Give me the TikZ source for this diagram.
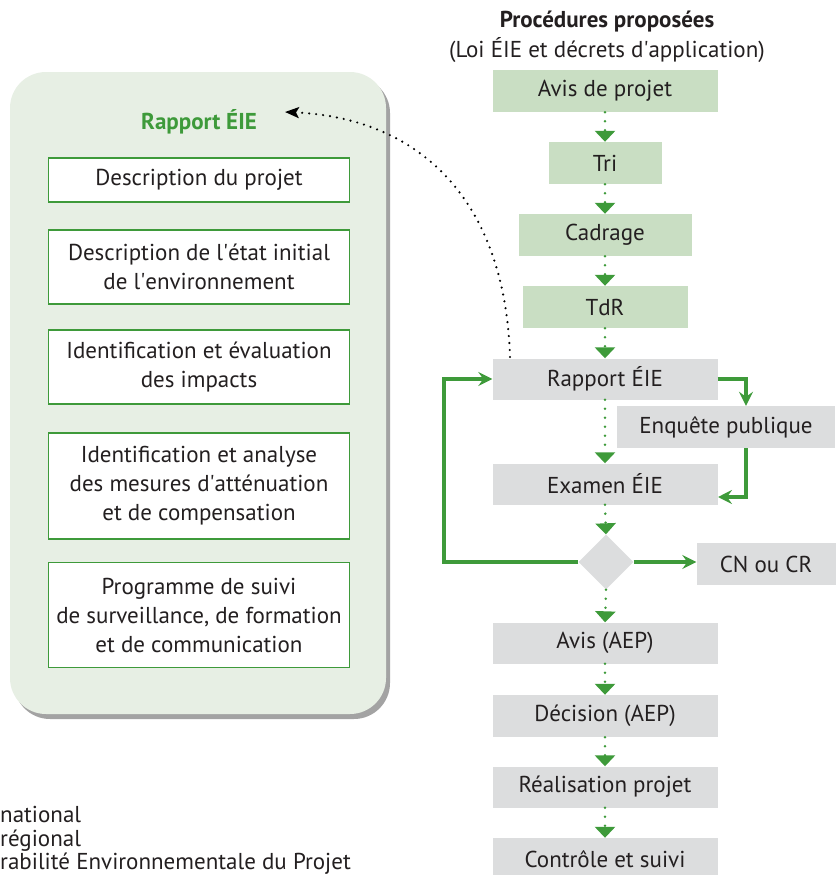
\documentclass[tikz,border=0pt]{standalone}
\usepackage{fontspec}
\setmainfont{PT Sans}
\usetikzlibrary{arrows.meta,shapes.geometric,shadows}
\definecolor{gbox}{HTML}{C9DEC3}
\definecolor{grbox}{HTML}{DCDDDE}
\definecolor{panel}{HTML}{E7EFE4}
\definecolor{gline}{HTML}{3E9A3A}
\definecolor{txt}{HTML}{231F20}
\newcommand{\q}{\textquotesingle}
\tikzset{
  base/.style={inner sep=0pt, text=txt, font=\fontsize{23}{29}\selectfont, align=center},
  greenbox/.style={base, fill=gbox},
  graybox/.style={base, fill=grbox},
  whitebox/.style={base, fill=white, draw=gline, line width=1.3pt, minimum width=301pt},
  dotarrow/.style={gline, line width=2.8pt, dash pattern=on 0pt off 9pt, line cap=round,
     -{Triangle[width=20pt,length=11pt]}},
  solarrow/.style={gline, line width=3.2pt, -{Stealth[length=14pt,width=14pt,inset=5pt]}},
}
\begin{document}
\begin{tikzpicture}[x=1pt,y=-1pt]
\useasboundingbox (0,0) rectangle (835,875);
% left panel
\node[draw=none, fill=panel, rounded corners=36pt, minimum width=376pt, minimum height=642pt,
  drop shadow={shadow xshift=4pt, shadow yshift=-5pt, fill=black!45, opacity=0.8}] (panel) at (198,393) {};
\node[base, font=\fontsize{23}{27}\selectfont\bfseries, text=gline] (rtitle) at (199,122) {Rapport ÉIE};
\node[whitebox, minimum height=44pt] (w1) at (199,180) {Description du projet};
\node[whitebox, minimum height=74pt] (w2) at (199,267) {Description de l\q état initial\\de l\q environnement};
\node[whitebox, minimum height=74pt] (w3) at (199,367) {Identification et évaluation\\des impacts};
\node[whitebox, minimum height=106pt] (w4) at (199,486) {Identification et analyse\\des mesures d\q atténuation\\et de compensation};
\node[whitebox, minimum height=105pt] (w5) at (199,615) {Programme de suivi\\de surveillance, de formation\\et de communication};
% right title
\node[base, font=\fontsize{23}{27}\selectfont\bfseries] (t1) at (607,22) {Procédures proposées};
\node[base, font=\fontsize{23}{27}\selectfont] (t2) at (607,50) {(Loi ÉIE et décrets d\q application)};
% green boxes
\node[greenbox, minimum width=225pt, minimum height=42pt] (avis) at (605,91) {Avis de projet};
\node[greenbox, minimum width=113pt, minimum height=42pt] (tri) at (605,163) {Tri};
\node[greenbox, minimum width=173pt, minimum height=42pt] (cad) at (605,235) {Cadrage};
\node[greenbox, minimum width=165pt, minimum height=42pt] (tdr) at (605,307) {TdR};
% gray boxes
\node[graybox, minimum width=225pt, minimum height=41pt] (rap) at (605,379) {Rapport ÉIE};
\node[graybox, minimum width=218pt, minimum height=42pt] (enq) at (726,427) {Enquête publique};
\node[graybox, minimum width=225pt, minimum height=41pt] (exa) at (605,484) {Examen ÉIE};
\node[diamond, fill=grbox, minimum width=55pt, minimum height=55pt, inner sep=0pt] (dia) at (606,562) {};
\node[graybox, minimum width=139pt, minimum height=42pt] (cn) at (766,564) {CN ou CR};
\node[graybox, minimum width=225pt, minimum height=41pt] (aep) at (605,643) {Avis (AEP)};
\node[graybox, minimum width=225pt, minimum height=42pt] (dec) at (605,716) {Décision (AEP)};
\node[graybox, minimum width=225pt, minimum height=41pt] (rea) at (605,787) {Réalisation projet};
\node[graybox, minimum width=225pt, minimum height=42pt] (con) at (605,859) {Contrôle et suivi};
% dotted green arrows
\draw[dotarrow] (avis.south) -- (tri.north);
\draw[dotarrow] (tri.south) -- (cad.north);
\draw[dotarrow] (cad.south) -- (tdr.north);
\draw[dotarrow] (tdr.south) -- (rap.north);
\draw[dotarrow] (rap.south) -- (exa.north);
\draw[dotarrow] (exa.south) -- (dia.north);
\draw[dotarrow] (dia.south) -- (aep.north);
\draw[dotarrow] (aep.south) -- (dec.north);
\draw[dotarrow] (dec.south) -- (rea.north);
\draw[dotarrow] (rea.south) -- (con.north);
% solid green arrows
\coordinate (loopx) at (444,0);
\coordinate (sidex) at (746,0);
\draw[solarrow] (dia.west) -| (loopx |- rap.west) -- (rap.west);
\draw[solarrow] (rap.east) -| (sidex |- enq.north);
\coordinate (exin) at (718,497);
\draw[solarrow] (sidex |- enq.south) |- (exin);
\draw[solarrow] (dia.east) -- (dia.east -| cn.west);
% black dotted curve
\coordinate (cstart) at (510,357);
\coordinate (cend) at (285,112);
\draw[black, line width=2.4pt, dash pattern=on 0pt off 7pt, line cap=round,
  -{Stealth[length=14pt,width=11pt,inset=3pt]}]
  (cstart) .. controls (505,200) and (420,118) .. (cend);
% legend fragments
\node[base, anchor=west, font=\fontsize{23}{27}\selectfont] (l1) at (0,814) {national};
\node[base, anchor=west, font=\fontsize{23}{27}\selectfont] (l2) at (0,841) {régional};
\node[base, anchor=south west, font=\fontsize{23}{27}\selectfont] (l3) at (0,874.5) {rabilité Environnementale du Projet};
\end{tikzpicture}
\end{document}
